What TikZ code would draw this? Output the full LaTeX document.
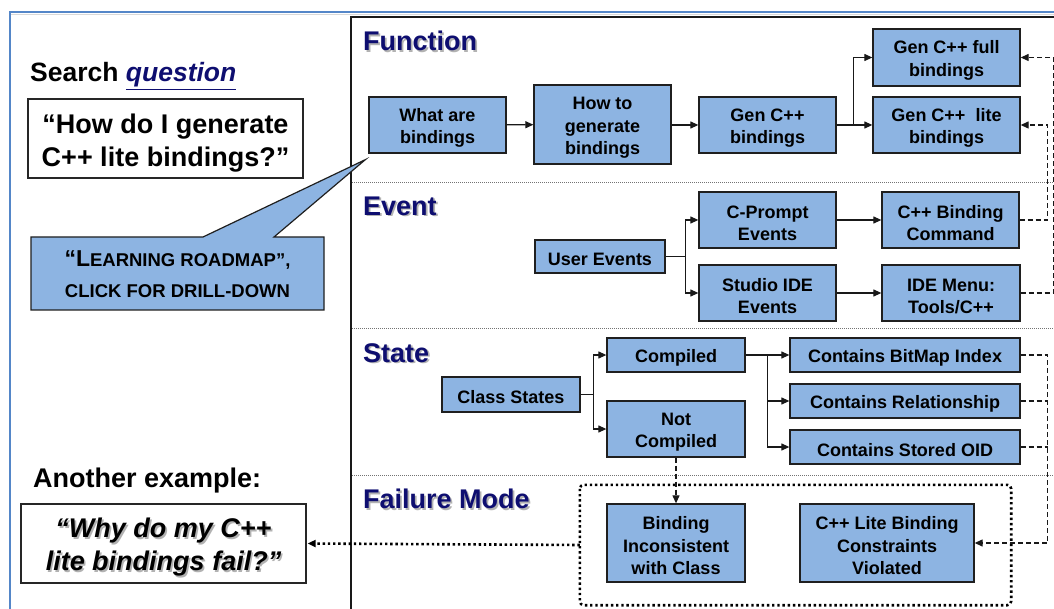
\documentclass[tikz,border=0pt]{standalone}
\usepackage{fontspec}
\setmainfont{Liberation Sans}
\usetikzlibrary{arrows.meta,calc}
\definecolor{boxfill}{RGB}{141,180,226}
\definecolor{navyhead}{RGB}{14,14,112}
\definecolor{frameblue}{RGB}{84,134,200}
% shadowed text: name, position, style, text
\newcommand\shadowtext[4]{%
  \node[#3, text=black!30] (#1-sh) at ($(#2)+(1.6,1.6)$) {#4};
  \node[#3] (#1) at (#2) {#4};}
% strut that balances the first line of a box label against its descenders
\newcommand\lift{\rule{0pt}{19pt}}
\begin{document}
\begin{tikzpicture}[x=1pt,y=-1pt,
  box/.style={draw=black!88, line width=1.3pt, fill=boxfill, align=center,
    inner sep=0pt, font=\fontsize{18}{22.5}\selectfont\bfseries},
  qbox/.style={draw=black!85, line width=1.2pt, fill=white, align=center,
    inner sep=0pt},
  head/.style={font=\fontsize{27}{30}\selectfont\bfseries, text=navyhead,
    inner sep=0pt, anchor=west},
  arr/.style={-{Triangle[length=8pt,width=7pt]}, line width=1.2pt, black!90},
  link/.style={line width=1.2pt, black!90},
  dashlink/.style={line width=1.2pt, black!90, dash pattern=on 5pt off 3pt},
  sep/.style={line width=0.8pt, black!55, dash pattern=on 1pt off 1pt},
  dots/.style={line width=2.6pt, dash pattern=on 2.4pt off 2.8pt, black},
]
\useasboundingbox (0,0) rectangle (1054,609);
\clip (0,0) rectangle (1054,609);

% outer frame and roadmap panel
\draw[frameblue, line width=1.6pt] (10,620) -- (10,12) -- (1070,12);
\draw[black!15, line width=1pt] (11,14.5) -- (1070,14.5);
\draw[black!90, line width=1.8pt] (351,620) -- (351,17) -- (1070,17);

% band separators
\draw[sep] (352,182) -- (1054,182);
\draw[sep] (352,328) -- (1054,328);
\draw[sep] (352,475) -- (1054,475);

% band headings
\shadowtext{hfun}{363,41}{head}{Function}
\shadowtext{hev}{363,206}{head}{Event}
\shadowtext{hst}{363,353}{head}{State}
\shadowtext{hfm}{363,499}{head}{Failure Mode}

% Function band
\node[box, minimum width=137pt, minimum height=56pt] (what) at (437.5,125) {\lift What are\\bindings};
\node[box, minimum width=137pt, minimum height=79pt] (howto) at (602.5,124.5) {\lift How to\\generate\\bindings};
\node[box, minimum width=137pt, minimum height=56pt] (gen) at (767.5,125) {\lift Gen C++\\bindings};
\node[box, minimum width=147pt, minimum height=57pt] (full) at (946.5,57.5) {\lift Gen C++ full\\bindings};
\node[box, minimum width=147pt, minimum height=56pt] (lite) at (946.5,125) {\lift Gen C++~ lite\\bindings};

% Event band
\node[box, minimum width=130pt, minimum height=33pt] (user) at (600,256.5) {\lift User Events};
\node[box, minimum width=137pt, minimum height=56pt] (cprompt) at (767.5,220) {\lift C-Prompt\\Events};
\node[box, minimum width=137pt, minimum height=56pt] (cppcmd) at (950.5,220) {\lift C++ Binding\\Command};
\node[box, minimum width=137pt, minimum height=56pt] (studio) at (767.5,293) {\lift Studio IDE\\Events};
\node[box, minimum width=138pt, minimum height=56pt] (idemenu) at (951,293) {\lift IDE Menu:\\Tools/C++};

% State band
\node[box, minimum width=138pt, minimum height=35pt] (classst) at (511,394.5) {\lift Class States};
\node[box, minimum width=138pt, minimum height=34pt] (compiled) at (676,355) {\lift Compiled};
\node[box, minimum width=138pt, minimum height=56pt] (notcomp) at (676,429) {\lift Not\\Compiled};
\node[box, minimum width=230pt, minimum height=34pt] (bitmap) at (905,355) {\lift Contains BitMap Index};
\node[box, minimum width=230pt, minimum height=34pt] (relat) at (905,401) {\lift Contains Relationship};
\node[box, minimum width=230pt, minimum height=34pt] (oid) at (905,447) {\lift Contains Stored OID};

% Failure mode band
\node[draw=none, minimum width=431pt, minimum height=120pt, inner sep=0pt] (fmgroup) at (795.5,545) {};
\draw[dots, rounded corners=4pt] (fmgroup.north west) rectangle (fmgroup.south east);
\node[box, minimum width=138pt, minimum height=78pt] (incons) at (676,543) {\lift Binding\\Inconsistent\\with Class};
\node[box, minimum width=174pt, minimum height=78pt] (constr) at (887,543) {\lift C++ Lite Binding\\Constraints\\Violated};

% solid flow connectors
\draw[arr] (what) -- (howto);
\draw[arr] (howto.east |- what.east) -- (gen);
\draw[arr] (gen.east) -- ++(17,0) coordinate (genfork) |- (full.west);
\draw[arr] (genfork) -- (lite.west);
\draw[link] (user.east) -- ++(20,0) coordinate (userfork);
\draw[arr] (userfork) |- (cprompt.west);
\draw[arr] (userfork) |- (studio.west);
\draw[arr] (cprompt) -- (cppcmd);
\draw[arr] (studio) -- (idemenu);
\draw[link] (classst.east) -- ++(13,0) coordinate (csfork);
\draw[arr] (csfork) |- (compiled.west);
\draw[arr] (csfork) |- (notcomp.west);
\draw[arr] (compiled) -- (bitmap);
\draw[link] ($(compiled.east)+(22,0)$) coordinate (cfork) -- (cfork |- relat.west);
\draw[arr] (cfork) |- (relat.west);
\draw[arr] (cfork) |- (oid.west);

% dashed cross-band links
\draw[dashlink, -{Triangle[length=8pt,width=7pt]}] (cppcmd.east) -- ++(28,0) |- (lite.east);
\draw[dashlink, -{Triangle[length=8pt,width=7pt]}] (idemenu.east) -- ++(33,0) |- (full.east);
\draw[dashlink, -{Triangle[length=8pt,width=7pt]}] (bitmap.east) -- ++(27,0) coordinate (sfork) |- (constr.east);
\draw[dashlink] (relat.east) -- (relat.east -| sfork);
\draw[dashlink] (oid.east) -- (oid.east -| sfork);
\draw[dashlink, -{Triangle[length=8pt,width=7pt]}] (notcomp.south) -- (incons.north);

% left column: questions
\node[anchor=west, inner sep=0pt, font=\fontsize{26.5}{30}\selectfont\bfseries] (search) at (30,76)
  {Search \textcolor{navyhead}{\underline{\itshape question}}};
\node[qbox, minimum width=275pt, minimum height=79pt, font=\fontsize{27}{33}\selectfont\bfseries] (howq) at (165.5,138.5)
  {\rule{0pt}{28pt}“How do I generate\\C++ lite bindings?”};

% callout pointing at the first function box
\coordinate (tip) at ($(what.south west)+(-3,6)$);
\draw[black!88, line width=1.2pt, fill=boxfill]
  (31,237) -- (203,237) -- (tip) -- (274,237) -- (324,237) -- (324,310) -- (31,310) -- cycle;
\node[align=center, inner sep=0pt, font=\fontsize{18.5}{31}\selectfont\bfseries] (callout) at (177.5,274)
  {{\fontsize{23}{31}\selectfont “L}EARNING ROADMAP”,\\CLICK FOR DRILL-DOWN};

\node[anchor=west, inner sep=0pt, font=\fontsize{27}{30}\selectfont\bfseries] (another) at (33,481) {Another example:};
\node[qbox, minimum width=285pt, minimum height=79pt] (whyq) at (163.5,543.5) {};
\shadowtext{whytext}{$(whyq.center)+(0,3.5)$}{align=center, inner sep=0pt, font=\fontsize{27}{33}\selectfont\bfseries\itshape}
  {“Why do my C++\\lite bindings fail?”}

% failure modes lead back to the second question
\draw[dots, -{Triangle[length=8pt,width=7pt]}, shorten >=1pt] (fmgroup.west) -- (whyq.east);
\end{tikzpicture}
\end{document}
